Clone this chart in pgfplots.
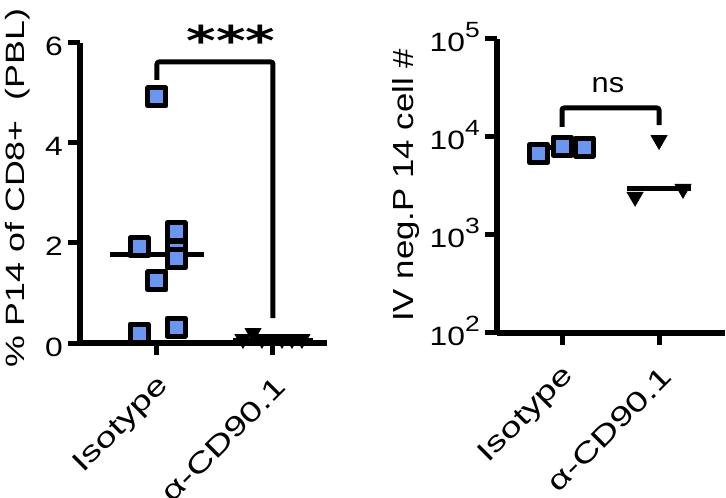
\documentclass[border=0pt]{standalone}
\usepackage{pgfplots}
\pgfplotsset{compat=1.18}
\usepackage{fontspec}
\setmainfont{Liberation Sans}
\newfontfamily\fA[FakeStretch=1.35]{Liberation Sans}
\newfontfamily\fB[FakeStretch=1.2]{Liberation Sans}
\newfontfamily\fC[FakeStretch=1.1]{Liberation Sans}
\newfontfamily\fS[FakeStretch=1.38]{DejaVu Sans}
\definecolor{sq}{RGB}{104,150,240}
\newcommand\sups[1]{\raisebox{14pt}{\fontsize{22}{22}\selectfont #1}}
\pgfplotsset{
 common/.style={
  scale only axis, axis lines*=left, clip=false,
  axis line style={line width=5.5pt},
  major tick style={line width=5pt, black},
  major tick length=12pt, tick align=outside,
  xtick={0,1}, xticklabels={Isotype,{α-CD90.1}},
  xticklabel style={font=\fA\fontsize{28}{28}\selectfont, xshift=8pt, yshift=-27pt, rotate=45, anchor=east, inner sep=0pt},
  yticklabel style={font=\fB\fontsize{26.5}{26.5}\selectfont, anchor=base east, inner sep=0pt, xshift=-5pt, yshift=-13pt},
  /pgf/number format/assume math mode=true,
  minor tick num=0,
 },
 sqm/.style={only marks, mark=square*, mark size=9pt, mark options={fill=sq, draw=black, line width=5pt, line join=round}},
 trm/.style={only marks, mark=triangle*, mark size=9pt, mark options={rotate=180, fill=black, draw=black, line width=1pt}},
}
\begin{document}
\begin{tikzpicture}
\begin{axis}[common, at={(80pt,155pt)}, anchor=south west, width=247pt, height=300pt,
  xmin=-0.664, xmax=1.466, ymin=0, ymax=6, ytick={0,2,4,6},
  ylabel={\% P14 of CD8+\ \ (PBL)},
  ylabel style={font=\fA\fontsize{26.5}{26.5}\selectfont, at={(axis description cs:-0.2247,-0.0833)}, anchor=base west, inner sep=0pt}]
\addplot[sqm] coordinates {(0,4.92) (-0.155,1.92) (0.164,2.22) (0.164,1.85) (0.164,1.68) (0,1.24) (-0.155,0.2) (0.164,0.32)};
\addplot[line width=5pt, black] coordinates {(-0.405,1.765) (0.405,1.765)};
\addplot[trm] coordinates {(0.741,0.08) (0.828,0.2) (0.905,0.08) (0.99,0.08) (1.078,0.08) (1.164,0.08) (1.25,0.08)};
\addplot[line width=5pt, black] coordinates {(0.655,0.05) (1.345,0.05)};
\draw[line width=5pt, line join=round, rounded corners=2pt] (axis cs:0,5.26) -- (axis cs:0,5.62) -- (axis cs:1,5.62) -- (axis cs:1,0.5);
\node[font=\fS\bfseries\fontsize{41}{41}\selectfont, anchor=base, inner sep=0pt] at (axis cs:0.638,5.74) {***};
\end{axis}
\begin{axis}[common, at={(497pt,165pt)}, anchor=south west, width=228pt, height=294pt,
  xmin=-0.67, xmax=1.68, ymode=log, ymin=100, ymax=100000,
  ytick={100,1000,10000,100000},
  yticklabels={10\sups{2},10\sups{3},10\sups{4},10\sups{5}},
  ylabel={IV neg.P 14 cell \#},
  ylabel style={font=\fB\fontsize{29}{29}\selectfont, at={(axis description cs:-0.368,0.0374)}, anchor=base west, inner sep=0pt}]
\addplot[line width=5pt, black] coordinates {(-0.325,7900) (0.325,7900)};
\addplot[sqm] coordinates {(-0.24,6790) (0,8090) (0.23,7900)};
\addplot[trm] coordinates {(1,9300) (0.753,2450) (1.247,2950)};
\addplot[line width=5pt, black] coordinates {(0.675,2950) (1.325,2950)};
\draw[line width=5pt, line join=round, rounded corners=2pt] (axis cs:0,12650) -- (axis cs:0,19770) -- (axis cs:1,19770) -- (axis cs:1,13240);
\node[font=\fC\fontsize{28}{28}\selectfont, anchor=base, inner sep=0pt] at (axis cs:0.474,28770) {ns};
\end{axis}
\pgfresetboundingbox
\path[use as bounding box] (0,0) rectangle (726pt,498pt);
\end{tikzpicture}
\end{document}
